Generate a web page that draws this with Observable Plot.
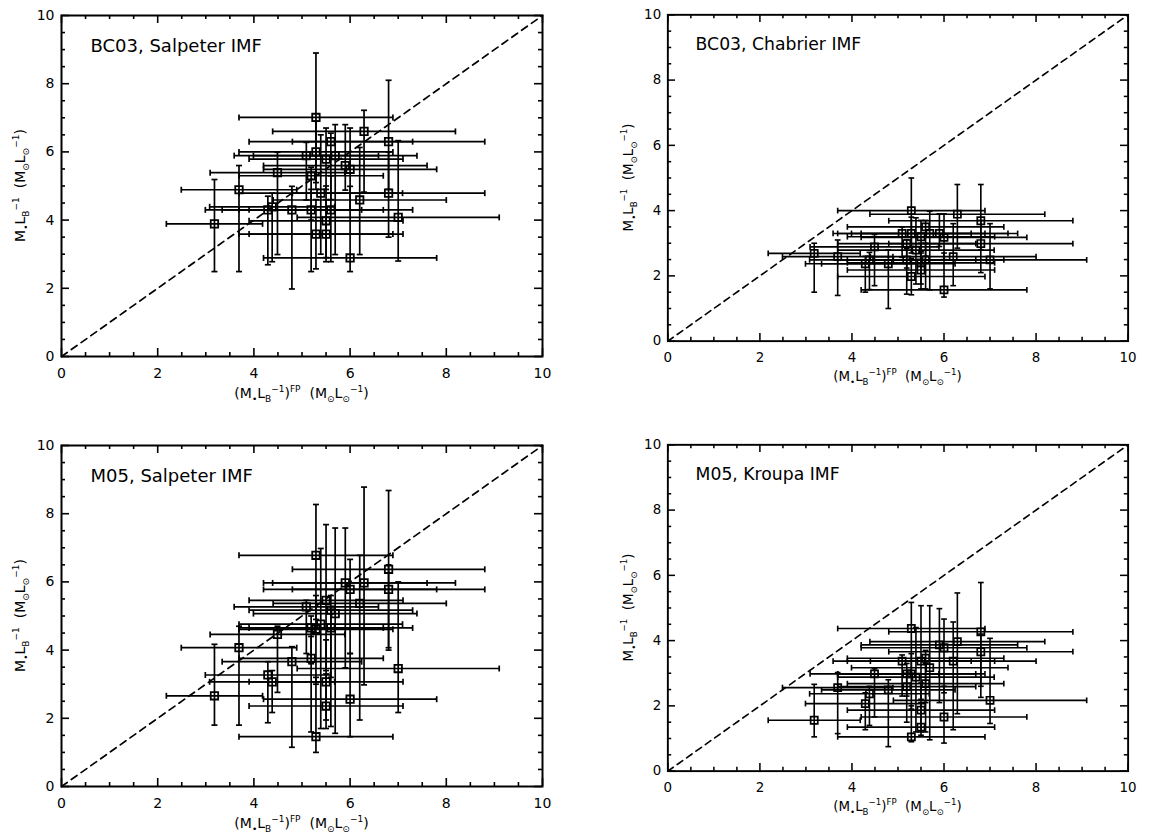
<!DOCTYPE html>
<html><head><meta charset="utf-8">
<script src="https://cdn.jsdelivr.net/npm/d3@7"></script>
<script src="https://cdn.jsdelivr.net/npm/@observablehq/plot@0.6"></script>
<style>
body{margin:0;background:#fff;}
#wrap{position:relative;width:1164px;height:836px;background:#fff;overflow:hidden;}
.panel{position:absolute;}
</style></head><body><div id="wrap"></div>
<script>
// ---- data ----
const galaxyX    = [3.18, 3.69, 4.29, 4.38, 4.49, 4.79, 5.09, 5.19, 5.19, 5.29, 5.29, 5.29, 5.39, 5.50, 5.50, 5.50, 5.60, 5.60, 5.69, 5.90, 6.00, 6.00, 6.20, 6.29, 6.80, 6.80, 7.00];
const galaxyXErr = [1.00, 1.20, 1.30, 1.30, 1.40, 1.45, 1.50, 1.50, 1.50, 1.60, 1.60, 1.60, 1.70, 1.60, 1.60, 1.60, 1.70, 1.70, 1.70, 1.70, 1.80, 1.80, 1.80, 1.90, 2.00, 2.00, 2.10];

const bc03SalpY  = [3.89, 4.89, 4.30, 4.39, 5.39, 4.30, 5.89, 5.30, 4.30, 7.01, 6.00, 3.59, 4.79, 5.79, 3.98, 3.59, 6.30, 4.30, 5.89, 5.60, 5.49, 2.89, 4.59, 6.60, 6.30, 4.79, 4.08];
const bc03SalpLo = [2.49, 2.49, 2.69, 2.78, 2.99, 1.98, 4.59, 4.00, 2.49, 5.10, 4.90, 2.57, 3.00, 4.90, 2.90, 2.78, 4.60, 2.78, 2.99, 4.88, 4.30, 2.49, 2.99, 4.82, 4.90, 3.50, 2.80];
const bc03SalpHi = [5.19, 5.60, 4.70, 4.79, 5.99, 4.99, 6.28, 5.55, 4.90, 8.90, 6.90, 4.60, 6.50, 6.70, 5.00, 4.60, 6.55, 5.30, 6.80, 6.80, 6.70, 4.99, 6.13, 7.22, 8.10, 6.00, 6.33];

const bc03ChabY  = [2.69, 2.59, 2.37, 2.49, 2.89, 2.37, 3.30, 2.99, 2.49, 4.00, 3.30, 1.98, 2.79, 3.20, 2.40, 2.18, 3.50, 2.49, 3.30, 3.30, 3.18, 1.57, 2.59, 3.89, 3.69, 2.99, 2.49];
const bc03ChabLo = [1.50, 1.40, 1.50, 1.58, 1.70, 1.00, 2.57, 2.24, 1.44, 2.90, 2.70, 1.42, 1.75, 2.70, 1.75, 1.60, 2.60, 1.60, 1.57, 2.90, 2.50, 1.35, 1.70, 2.85, 2.80, 2.10, 1.60];
const bc03ChabHi = [3.00, 3.10, 2.60, 2.72, 3.27, 2.80, 3.50, 3.11, 2.83, 5.00, 3.80, 2.54, 3.78, 3.70, 3.00, 2.75, 3.70, 3.00, 3.98, 3.90, 3.90, 2.70, 3.60, 4.80, 4.80, 3.70, 3.60];

const m05SalpY   = [2.66, 4.07, 3.27, 3.07, 4.46, 3.66, 5.27, 4.65, 3.76, 6.78, 4.61, 1.46, 4.76, 5.46, 3.07, 2.36, 5.17, 4.65, 5.07, 5.97, 5.78, 2.56, 5.37, 5.97, 6.37, 5.78, 3.46];
const m05SalpLo  = [1.80, 1.80, 1.87, 2.17, 2.76, 1.15, 3.90, 3.60, 1.60, 4.90, 3.00, 1.00, 1.70, 3.40, 1.95, 1.70, 3.20, 1.76, 1.56, 3.48, 3.90, 1.46, 1.95, 2.98, 4.07, 4.00, 2.17];
const m05SalpHi  = [4.17, 4.70, 3.66, 3.40, 4.70, 4.10, 5.46, 5.00, 4.40, 8.27, 5.60, 3.20, 6.98, 7.68, 4.30, 3.30, 5.60, 5.20, 7.58, 7.58, 6.66, 3.90, 6.78, 8.78, 8.68, 6.50, 6.00];

const m05KrouY   = [1.56, 2.56, 2.07, 2.37, 2.98, 2.49, 3.37, 2.98, 2.59, 4.37, 2.98, 1.05, 2.88, 3.37, 1.87, 1.35, 3.46, 2.68, 3.17, 3.87, 3.78, 1.66, 3.37, 3.97, 4.27, 3.66, 2.17];
const m05KrouLo  = [1.05, 1.15, 1.27, 1.40, 1.66, 0.75, 2.30, 2.30, 1.50, 3.00, 1.90, 0.90, 1.20, 2.20, 1.20, 1.10, 2.10, 1.20, 0.96, 2.10, 2.40, 0.86, 1.27, 1.76, 2.26, 2.60, 1.46];
const m05KrouHi  = [2.66, 3.02, 2.40, 2.60, 3.14, 2.80, 3.56, 3.30, 3.00, 5.17, 3.60, 2.00, 4.40, 5.07, 2.70, 2.10, 3.70, 3.30, 5.07, 4.98, 4.66, 2.60, 4.57, 5.46, 5.78, 4.20, 4.07];

const panelTitles = ["BC03, Salpeter IMF", "BC03, Chabrier IMF", "M05, Salpeter IMF", "M05, Kroupa IMF"];
const majorTicks  = [0, 2, 4, 6, 8, 10];
const minorTicks  = [0.5, 1, 1.5, 2.5, 3, 3.5, 4.5, 5, 5.5, 6.5, 7, 7.5, 8.5, 9, 9.5];
const oneToOne    = [0, 10];
const axisDomain  = [0, 10];

// ---- layout ----
const W = 580, H = 420, ML = 61, MT = 15, MR = 38, MB = 64;
const FW = W - ML - MR, FH = H - MT - MB;
const panelPos = [[0, 0], [609, 0], [0, 430], [609, 430]];
const FONT = "'DejaVu Sans', 'Liberation Sans', sans-serif";

const vCap = {draw(ctx, size) { const r = Math.sqrt(size / Math.PI); ctx.moveTo(0, -r); ctx.lineTo(0, r); }};
const hCap = {draw(ctx, size) { const r = Math.sqrt(size / Math.PI); ctx.moveTo(-r, 0); ctx.lineTo(r, 0); }};

// inward ticks on all four sides (pixel length converted to data units)
function tickMarks(values, px) {
  const [d0, d1] = axisDomain;
  const ky = px * (d1 - d0) / FH, kx = px * (d1 - d0) / FW;
  const o = {stroke: "black", strokeWidth: 1.6};
  return [
    Plot.ruleX(values, {x: d => d, y1: d0, y2: d0 + ky, ...o}),
    Plot.ruleX(values, {x: d => d, y1: d1, y2: d1 - ky, ...o}),
    Plot.ruleY(values, {y: d => d, x1: d0, x2: d0 + kx, ...o}),
    Plot.ruleY(values, {y: d => d, x1: d1, x2: d1 - kx, ...o})
  ];
}

function addRichText(parent, segs, attrs) {
  const t = parent.append("text");
  for (const [k, v] of Object.entries(attrs)) t.attr(k, v);
  let cur = 0;
  for (const s of segs) {
    const target = s.k === "sub" ? 4 : s.k === "sup" ? -6 : 0;
    t.append("tspan").attr("dy", target - cur).attr("font-size", s.k ? 9 : 14).text(s.t);
    cur = target;
  }
  return t;
}
const xLabelSegs = [
  {t: "(M"}, {t: "\u2022", k: "sub"}, {t: "L"}, {t: "B", k: "sub"}, {t: "\u22121", k: "sup"}, {t: ")"}, {t: "FP", k: "sup"},
  {t: "\u00a0\u00a0(M"}, {t: "\u2299", k: "sub"}, {t: "L"}, {t: "\u2299", k: "sub"}, {t: "\u22121", k: "sup"}, {t: ")"}
];
const yLabelSegs = [
  {t: "M"}, {t: "\u2022", k: "sub"}, {t: "L"}, {t: "B", k: "sub"}, {t: "\u22121", k: "sup"},
  {t: "\u00a0\u00a0(M"}, {t: "\u2299", k: "sub"}, {t: "L"}, {t: "\u2299", k: "sub"}, {t: "\u22121", k: "sup"}, {t: ")"}
];

function makePanel(i, y, lo, hi) {
  const rows = galaxyX.map((x, j) => ({
    x, xlo: x - galaxyXErr[j], xhi: x + galaxyXErr[j], y: y[j], ylo: lo[j], yhi: hi[j]
  }));
  const ln = {stroke: "black", strokeWidth: 1.7};
  const svg = Plot.plot({
    width: W, height: H, marginLeft: ML, marginTop: MT, marginRight: MR, marginBottom: MB,
    x: {domain: axisDomain}, y: {domain: axisDomain},
    style: {fontFamily: FONT, fontSize: "14px", background: "white", color: "black", overflow: "visible"},
    marks: [
      Plot.line(oneToOne, {x: d => d, y: d => d, stroke: "black", strokeWidth: 1.7, strokeDasharray: "7,5"}),
      Plot.link(rows, {x1: "xlo", x2: "xhi", y1: "y", y2: "y", ...ln}),
      Plot.link(rows, {x1: "x", x2: "x", y1: "ylo", y2: "yhi", ...ln}),
      Plot.dot(rows, {x: "xlo", y: "y", symbol: vCap, r: 3, ...ln}),
      Plot.dot(rows, {x: "xhi", y: "y", symbol: vCap, r: 3, ...ln}),
      Plot.dot(rows, {x: "x", y: "ylo", symbol: hCap, r: 3, ...ln}),
      Plot.dot(rows, {x: "x", y: "yhi", symbol: hCap, r: 3, ...ln}),
      Plot.dot(rows, {x: "x", y: "y", symbol: "square", r: 4.2, stroke: "black", strokeWidth: 1.8, fill: "none"}),
      Plot.axisX(majorTicks, {anchor: "bottom", tickSize: 0, tickPadding: 12, label: null, fontSize: 14}),
      Plot.axisY(majorTicks, {anchor: "left", tickSize: 0, tickPadding: 7, label: null, fontSize: 14}),
      Plot.frame({stroke: "black", strokeWidth: 2}),
      ...tickMarks(majorTicks, 8),
      ...tickMarks(minorTicks, 4),
      Plot.text([panelTitles[i]], {frameAnchor: "top-left", dx: 29, dy: 24, lineAnchor: "top", textAnchor: "start", fontSize: 18, text: d => d})
    ]
  });
  const s = d3.select(svg);
  addRichText(s, xLabelSegs, {x: ML + FW / 2, y: MT + FH + 42, "text-anchor": "middle", "font-family": FONT, fill: "black"});
  addRichText(s, yLabelSegs, {transform: `translate(25,${MT + FH / 2}) rotate(-90)`, "text-anchor": "middle", "font-family": FONT, fill: "black"});
  const div = document.createElement("div");
  div.className = "panel";
  div.style.left = panelPos[i][0] + "px";
  div.style.top = panelPos[i][1] + "px";
  div.appendChild(svg);
  document.getElementById("wrap").appendChild(div);
}

makePanel(0, bc03SalpY, bc03SalpLo, bc03SalpHi);
makePanel(1, bc03ChabY, bc03ChabLo, bc03ChabHi);
makePanel(2, m05SalpY, m05SalpLo, m05SalpHi);
makePanel(3, m05KrouY, m05KrouLo, m05KrouHi);
</script></body></html>
